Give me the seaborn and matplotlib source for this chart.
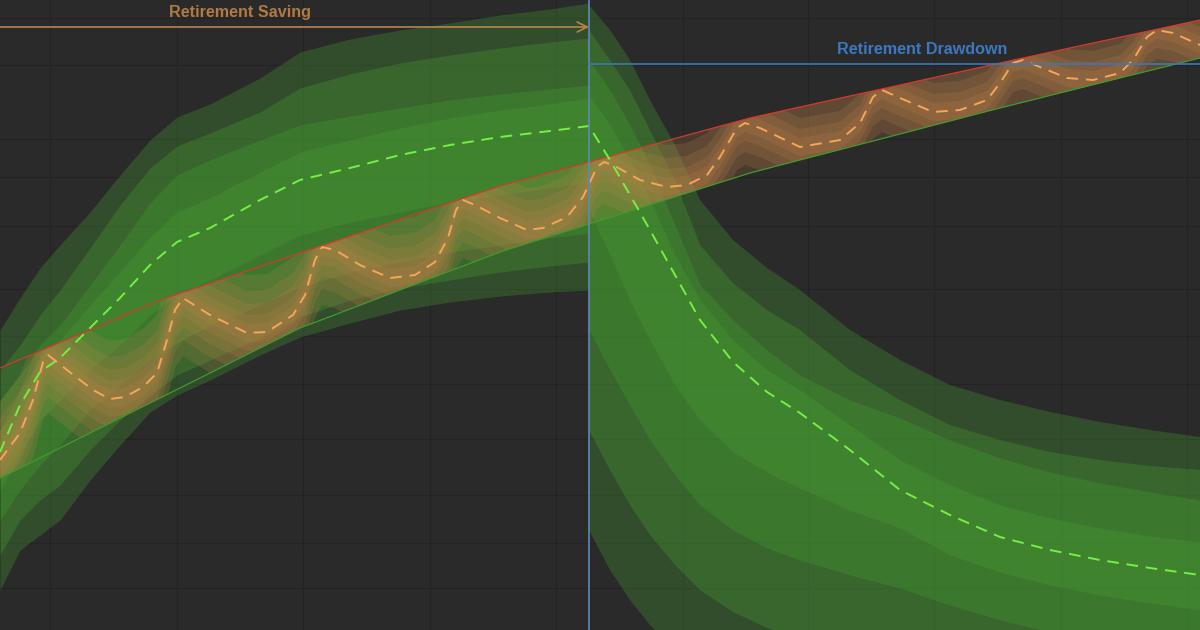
import numpy as np
import matplotlib
matplotlib.use("Agg")
import matplotlib.pyplot as plt
from matplotlib.patches import Polygon
import seaborn as sns

# chart units: x = horizontal position (0..1200), y = vertical position from top (0..630)

# --- saving phase fan (green, left of retirement) ---
save_x = [0, 20, 40, 60, 90, 120, 150, 177, 210, 260, 300, 350, 400, 450, 500, 550, 589]
save_median = [452, 405, 372, 358, 328, 298, 265, 242, 228, 200, 180, 168, 155, 145, 137, 131, 126]
save_outer_top = [330, 298, 268, 245, 212, 175, 140, 117, 104, 78, 52, 39, 30, 23, 15, 9, 3]
save_b2_top = [370, 345, 315, 290, 248, 205, 168, 146, 133, 112, 88, 74, 63, 55, 48, 42, 38]
save_b3_top = [400, 375, 345, 325, 285, 245, 203, 175, 160, 140, 125, 116, 108, 100, 94, 89, 85]
save_inner_top = [430, 390, 358, 340, 305, 272, 237, 212, 198, 172, 152, 140, 128, 118, 110, 104, 98]
save_inner_bot = [490, 455, 420, 400, 370, 345, 315, 295, 280, 255, 235, 222, 212, 202, 195, 188, 183]
save_b3_bot = [520, 490, 465, 445, 410, 385, 360, 343, 325, 305, 287, 272, 262, 252, 245, 238, 233]
save_b2_bot = [555, 520, 500, 485, 450, 420, 395, 375, 360, 338, 317, 300, 288, 280, 272, 266, 262]
save_outer_bot = [590, 550, 535, 520, 480, 445, 412, 395, 380, 355, 337, 323, 310, 302, 296, 292, 290]

# --- drawdown phase fan (green, right of retirement) ---
draw_x = [589, 610, 630, 650, 675, 700, 733, 767, 800, 850, 900, 950, 1000, 1050, 1100, 1150, 1200]
draw_median = [127, 160, 195, 230, 275, 320, 362, 392, 413, 450, 490, 515, 537, 550, 560, 568, 575]
draw_outer_top = [5, 30, 60, 100, 145, 200, 240, 268, 290, 330, 360, 385, 400, 412, 422, 430, 437]
draw_b2_top = [30, 60, 90, 130, 180, 245, 283, 310, 330, 370, 400, 425, 440, 452, 460, 466, 470]
draw_b3_top = [60, 90, 125, 165, 225, 285, 320, 350, 375, 400, 418, 440, 458, 472, 483, 492, 500]
draw_inner_top = [95, 125, 160, 200, 255, 300, 340, 370, 390, 425, 460, 485, 505, 518, 528, 536, 542]
draw_inner_bot = [210, 255, 300, 340, 385, 420, 452, 472, 488, 510, 528, 555, 572, 585, 595, 603, 610]
draw_b3_bot = [330, 370, 405, 440, 475, 505, 530, 548, 560, 575, 588, 605, 620, 632, 642, 650, 656]
draw_b2_bot = [430, 470, 505, 535, 565, 590, 612, 628, 640, 655, 668, 680, 690, 700, 705, 710, 715]
draw_outer_bot = [530, 570, 600, 625, 650, 670, 690, 700, 710, 720, 730, 740, 750, 760, 765, 770, 775]

# --- sawtooth path (orange) ---
saw_x = [0, 20, 33, 43, 48, 67, 93, 110, 125, 143, 157, 167, 175, 183, 210, 247, 267, 293,
         305, 315, 322, 335, 360, 390, 415, 435, 448, 456, 463, 475, 500, 527, 543, 567, 583,
         597, 604, 613, 640, 667, 687, 707, 720, 737, 745, 760, 800, 840, 860, 873, 882, 900,
         933, 960, 987, 1000, 1013, 1023, 1040, 1067, 1093, 1120, 1133, 1147, 1157, 1173, 1200]
saw_median = [460, 433, 400, 362, 355, 370, 390, 399, 397, 387, 373, 340, 310, 298, 315, 333, 332, 315,
              295, 260, 247, 250, 265, 278, 275, 262, 238, 210, 200, 205, 218, 230, 228, 217, 197,
              167, 162, 165, 180, 187, 185, 175, 157, 128, 123, 128, 147, 140, 123, 97, 90, 98,
              112, 110, 100, 83, 63, 60, 67, 78, 80, 73, 60, 37, 30, 33, 45]
saw_spread = [58, 42, 29, 18, 9]

# upper / lower guide lines
upper_x = [0, 160, 500, 589, 750, 800, 1000, 1200]
upper_y = [368, 300, 186, 162, 118, 107, 63, 20]
lower_x = [0, 300, 500, 589, 750, 800, 1000, 1200]
lower_y = [478, 328, 252, 224, 173, 160, 108, 58]

retire_x = 589
grid_x = [50, 177, 303, 430, 556, 683, 808, 934, 1061, 1187]
grid_y = [18, 65, 139, 177, 226, 289, 336, 384, 439, 495, 543, 588]

BG = "#2a2a2a"
sns.set_style("darkgrid", {"axes.facecolor": BG, "figure.facecolor": BG,
                           "grid.color": "#232323", "grid.linewidth": 1.0})
plt.rcParams["font.family"] = ["Liberation Sans", "DejaVu Sans"]

fig = plt.figure(figsize=(12, 6.3), dpi=100)
ax = fig.add_axes([0, 0, 1, 1])
ax.set_xlim(0, 1200)
ax.set_ylim(630, 0)
ax.set_xticks(grid_x)
ax.set_yticks(grid_y)
ax.tick_params(length=0, labelbottom=False, labelleft=False)
for s in ax.spines.values():
    s.set_visible(False)

green_fill = "#46a032"
for xs, bands in [
    (save_x, [(save_outer_top, save_outer_bot), (save_b2_top, save_b2_bot),
              (save_b3_top, save_b3_bot), (save_inner_top, save_inner_bot)]),
    (draw_x, [(draw_outer_top, draw_outer_bot), (draw_b2_top, draw_b2_bot),
              (draw_b3_top, draw_b3_bot), (draw_inner_top, draw_inner_bot)]),
]:
    for top, bot in bands:
        ax.fill_between(xs, top, bot, color=green_fill, alpha=0.3, linewidth=0, zorder=2)

# orange fan, kept between the two guide lines
corridor = Polygon(np.column_stack([upper_x + lower_x[::-1], upper_y + lower_y[::-1]]),
                   closed=True, transform=ax.transData)
sm = np.array(saw_median)
for s in saw_spread:
    f = ax.fill_between(saw_x, sm - s, sm + s, color="#c0844a", alpha=0.2, linewidth=0, zorder=3)
    f.set_clip_path(corridor)

sns.lineplot(x=upper_x, y=upper_y, ax=ax, color="#d8372a", linewidth=0.9, sort=False, zorder=4)
sns.lineplot(x=lower_x, y=lower_y, ax=ax, color="#3f9c2e", linewidth=0.9, sort=False, zorder=4)

sns.lineplot(x=save_x + draw_x[1:], y=save_median + draw_median[1:], ax=ax, color="#74f045",
             linewidth=1.4, linestyle=(0, (6, 4)), sort=False, zorder=5)
sns.lineplot(x=saw_x, y=saw_median, ax=ax, color="#f5a65a",
             linewidth=1.4, linestyle=(0, (6, 4)), sort=False, zorder=5)

# phase markers
ax.axvline(retire_x, color="#5e8ab4", linewidth=1.2, zorder=6)
ax.plot([retire_x, 1200], [64, 64], color="#3c78b8", linewidth=1.2, zorder=6)
ax.annotate("", xy=(retire_x, 27), xytext=(0, 27),
            arrowprops=dict(arrowstyle="->", color="#b8844a", lw=1.2,
                            mutation_scale=18, shrinkA=0, shrinkB=0), zorder=6)
ax.text(240, 13, "Retirement Saving", color="#b07a42", fontsize=11.6,
        fontweight="bold", ha="center", va="center", zorder=7)
ax.text(922, 50, "Retirement Drawdown", color="#3c78c0", fontsize=11.6,
        fontweight="bold", ha="center", va="center", zorder=7)

fig.savefig("out.png", dpi=100, facecolor=BG)
